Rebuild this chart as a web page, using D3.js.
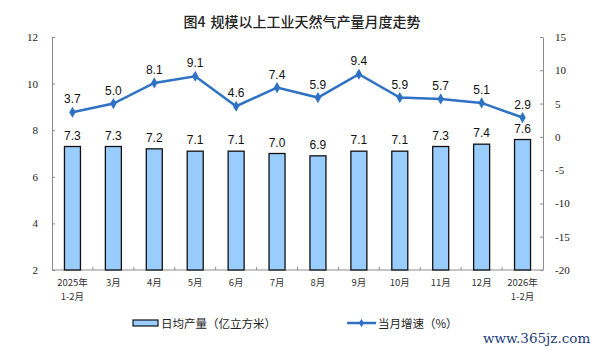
<!DOCTYPE html>
<html><head><meta charset="utf-8">
<script src="https://cdn.jsdelivr.net/npm/d3@7"></script>
<style>body{margin:0;background:#fff;}svg{display:block;}</style>
</head><body>
<svg id="c" width="604" height="354"></svg>
<script>
const categories = ["2025年\n1-2月","3月","4月","5月","6月","7月","8月","9月","10月","11月","12月","2026年\n1-2月"];
const output = [7.3,7.3,7.2,7.1,7.1,7.0,6.9,7.1,7.1,7.3,7.4,7.6];
const growth = [3.7,5.0,8.1,9.1,4.6,7.4,5.9,9.4,5.9,5.7,5.1,2.9];
const leftTicks = [2,4,6,8,10,12];
const rightTicks = [-20,-15,-10,-5,0,5,10,15];
const titleParts = ["图4", "规模以上工业天然气产量月度走势"];
const legendBar = "日均产量（亿立方米）";
const legendLine = "当月增速（%）";

const svg = d3.select("#c");
const L = 52, R = 543, T = 37, B = 270;
const x = d3.scaleBand().domain(d3.range(categories.length)).range([L, R]);
const yL = d3.scaleLinear().domain([2, 12]).range([B, T]);
const yR = d3.scaleLinear().domain([-20, 15]).range([B, T]);
const axisColor = "#8c8c8c";
const cjk = "'Noto Sans CJK SC', 'Noto Sans', sans-serif";

const tt = svg.append("text").attr("x", 302).attr("y", 27).attr("text-anchor", "middle")
  .attr("font-family", cjk).attr("font-size", 14).attr("font-weight", 500).attr("fill", "#222");
tt.append("tspan").text(titleParts[0]);
tt.append("tspan").attr("dx", 5).text(titleParts[1]);

// left axis
const gl = svg.append("g").attr("transform", `translate(${L},0)`)
  .call(d3.axisLeft(yL).tickValues(leftTicks).tickFormat(d => String(d)).tickSize(-3).tickPadding(14).tickSizeOuter(0));
// right axis
const gr = svg.append("g").attr("transform", `translate(${R},0)`)
  .call(d3.axisRight(yR).tickValues(rightTicks).tickFormat(d => String(d)).tickSize(-3).tickPadding(12).tickSizeOuter(0));
[gl, gr].forEach(g => {
  g.select(".domain").attr("stroke", axisColor);
  g.selectAll(".tick line").attr("stroke", axisColor);
  g.selectAll("text").attr("font-family", "'Liberation Serif', serif").attr("font-size", 11).attr("fill", "#222");
});
gr.selectAll("text").attr("text-anchor", "start");

// bottom axis
svg.append("line").attr("x1", L).attr("x2", R).attr("y1", B).attr("y2", B).attr("stroke", axisColor);
svg.append("g").selectAll("line").data(d3.range(1, categories.length)).join("line")
  .attr("x1", d => x(d)).attr("x2", d => x(d)).attr("y1", B).attr("y2", B - 3).attr("stroke", axisColor);

// x labels (one text element per line)
const xLines = [];
categories.forEach((c, i) => c.split("\n").forEach((p, k) => xLines.push({i, k, p})));
svg.append("g").selectAll("text").data(xLines).join("text")
  .attr("x", d => x(d.i) + x.bandwidth() / 2).attr("y", d => 286 + d.k * 13.5)
  .attr("text-anchor", "middle").attr("font-family", cjk).attr("font-size", 9.5).attr("fill", "#333")
  .text(d => d.p);

// bars
const bw = 16;
svg.append("g").selectAll("rect").data(output).join("rect")
  .attr("x", (d, i) => x(i) + x.bandwidth() / 2 - bw / 2)
  .attr("y", d => yL(d)).attr("width", bw).attr("height", d => B - yL(d))
  .attr("fill", "#99CCFF").attr("stroke", "#111").attr("stroke-width", 1.3);
svg.append("g").selectAll("text").data(output).join("text")
  .attr("x", (d, i) => x(i) + x.bandwidth() / 2).attr("y", d => yL(d) - 7)
  .attr("text-anchor", "middle").attr("font-family", "'Liberation Sans', Arial, sans-serif")
  .attr("font-size", 12).attr("fill", "#111").text(d => d.toFixed(1));

// line
const lineColor = "#2F72C4";
const line = d3.line().x((d, i) => x(i) + x.bandwidth() / 2).y(d => yR(d));
svg.append("path").datum(growth).attr("d", line).attr("fill", "none")
  .attr("stroke", lineColor).attr("stroke-width", 2.5);
svg.append("g").selectAll("path").data(growth).join("path")
  .attr("transform", (d, i) => `translate(${x(i) + x.bandwidth() / 2},${yR(d)})`)
  .attr("d", d3.symbol(d3.symbolDiamond, 36)).attr("fill", lineColor);
svg.append("g").selectAll("text").data(growth).join("text")
  .attr("x", (d, i) => x(i) + x.bandwidth() / 2).attr("y", d => yR(d) - 9)
  .attr("text-anchor", "middle").attr("font-family", "'Liberation Sans', Arial, sans-serif")
  .attr("font-size", 12).attr("fill", "#111").text(d => d.toFixed(1));

// legend
svg.append("rect").attr("x", 133).attr("y", 320).attr("width", 25).attr("height", 6)
  .attr("fill", "#99CCFF").attr("stroke", "#111").attr("stroke-width", 1.2);
svg.append("text").attr("x", 161).attr("y", 327.5).attr("font-family", cjk).attr("font-size", 11.5)
  .attr("fill", "#222").text(legendBar);
svg.append("line").attr("x1", 347).attr("x2", 376).attr("y1", 323).attr("y2", 323)
  .attr("stroke", lineColor).attr("stroke-width", 2.5);
svg.append("path").attr("transform", "translate(361.5,323)").attr("d", d3.symbol(d3.symbolDiamond, 22)).attr("fill", lineColor);
svg.append("text").attr("x", 378).attr("y", 327.5).attr("font-family", cjk).attr("font-size", 11.5)
  .attr("fill", "#222").text(legendLine);

// watermark
svg.append("text").attr("x", 483).attr("y", 343).attr("font-family", "'DejaVu Serif', serif")
  .attr("font-size", 13.5).attr("fill", "#1d3a78").text("www.365jz.com");
</script>
</body></html>
